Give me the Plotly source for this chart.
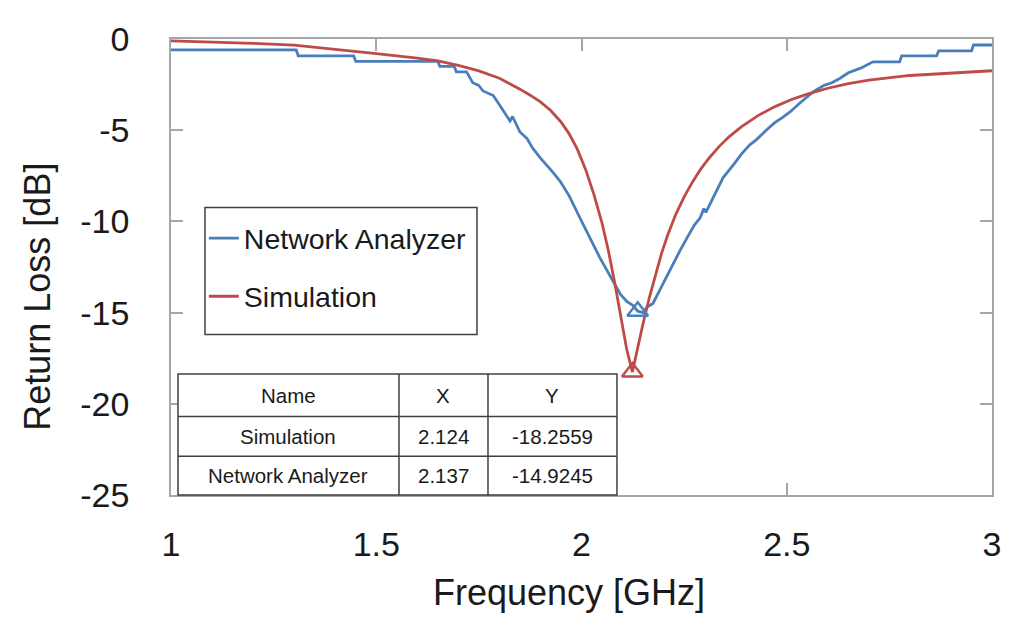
import plotly.graph_objects as go

# ---- data ----
na_freq = [1.000, 1.305, 1.310, 1.445, 1.450, 1.650, 1.655, 1.690, 1.695, 1.720,
           1.735, 1.750, 1.760, 1.770, 1.785, 1.800, 1.815, 1.826, 1.832, 1.840,
           1.850, 1.867, 1.880, 1.899, 1.915, 1.930, 1.948, 1.970, 1.996, 2.020,
           2.045, 2.060, 2.077, 2.095, 2.111, 2.125, 2.137, 2.150, 2.160, 2.174,
           2.190, 2.208, 2.223, 2.240, 2.257, 2.275, 2.289, 2.298, 2.303, 2.320,
           2.345, 2.370, 2.390, 2.410, 2.427, 2.450, 2.470, 2.490, 2.508, 2.530,
           2.550, 2.564, 2.590, 2.610, 2.630, 2.650, 2.680, 2.710, 2.775, 2.780,
           2.865, 2.870, 2.950, 2.955, 3.000]
na_db = [-0.60, -0.60, -0.92, -0.92, -1.23, -1.23, -1.50, -1.50, -1.80, -1.80,
         -2.40, -2.55, -2.85, -2.95, -3.10, -3.60, -4.10, -4.50, -4.25, -4.60,
         -5.10, -5.45, -5.95, -6.50, -6.90, -7.30, -7.80, -8.60, -9.80, -10.90,
         -12.00, -12.60, -13.30, -14.00, -14.40, -14.60, -14.92, -15.00, -14.70, -14.50,
         -13.80, -13.00, -12.30, -11.60, -10.90, -10.20, -9.80, -9.30, -9.50, -8.70,
         -7.60, -6.90, -6.30, -5.80, -5.50, -5.00, -4.60, -4.30, -4.00, -3.55,
         -3.15, -2.90, -2.55, -2.40, -2.15, -1.85, -1.60, -1.25, -1.25, -0.92,
         -0.92, -0.65, -0.65, -0.33, -0.33]

sim_freq = [1.00, 1.10, 1.20, 1.30, 1.40, 1.50, 1.60, 1.65, 1.70, 1.75,
            1.80, 1.826, 1.85, 1.875, 1.90, 1.925, 1.95, 1.97, 1.99, 2.01,
            2.03, 2.05, 2.065, 2.08, 2.095, 2.11, 2.124, 2.135, 2.15, 2.165,
            2.18, 2.195, 2.21, 2.23, 2.25, 2.27, 2.29, 2.31, 2.335, 2.36,
            2.39, 2.43, 2.47, 2.51, 2.55, 2.60, 2.65, 2.70, 2.80, 2.90, 3.00]
sim_db = [-0.10, -0.16, -0.24, -0.34, -0.55, -0.80, -1.05, -1.20, -1.45, -1.75,
          -2.15, -2.45, -2.75, -3.08, -3.45, -3.92, -4.55, -5.20, -6.05, -7.15,
          -8.50, -10.10, -11.55, -13.25, -15.15, -17.00, -18.26, -17.10, -15.60, -14.20,
          -12.90, -11.75, -10.75, -9.60, -8.65, -7.85, -7.15, -6.55, -5.90, -5.35,
          -4.80, -4.20, -3.72, -3.33, -3.02, -2.70, -2.45, -2.25, -2.00, -1.85, -1.74]

table_names = ["Simulation", "Network Analyzer"]
table_x = [2.124, 2.137]
table_y = [-18.2559, -14.9245]
table_header = ["Name", "X", "Y"]

x_ticks = [1, 1.5, 2, 2.5, 3]
y_ticks = [0, -5, -10, -15, -20, -25]

BLUE = "#4A7EBB"
RED = "#BE4B48"
FONT = "Liberation Sans, Arial, sans-serif"
TXT = "#1a1a1a"
LC = "#404040"

fig = go.Figure()
fig.add_trace(go.Scatter(x=na_freq, y=na_db, mode="lines", name="Network Analyzer",
                         line=dict(color=BLUE, width=2.8), legendgroup="a"))
fig.add_trace(go.Scatter(x=sim_freq, y=sim_db, mode="lines", name="Simulation",
                         line=dict(color=RED, width=2.8), legendgroup="b"))
fig.add_trace(go.Scatter(x=[table_x[1]], y=[table_y[1]], mode="markers", showlegend=False,
                         marker=dict(symbol="triangle-up-open", size=18, color=BLUE,
                                     line=dict(width=2.4, color=BLUE))))
fig.add_trace(go.Scatter(x=[table_x[0]], y=[table_y[0]], mode="markers", showlegend=False,
                         marker=dict(symbol="triangle-up-open", size=18, color=RED,
                                     line=dict(width=2.4, color=RED))))

# ---- legend box & table drawn with shapes / annotations (paper coords) ----
shapes = [dict(type="rect", xref="paper", yref="paper", x0=0.0414, x1=0.3727,
               y0=0.3522, y1=0.6304, fillcolor="white", line=dict(color=LC, width=1.5),
               layer="above")]

col_edges = [0.0085, 0.2777, 0.3861, 0.5432]
row_edges = [0.2652, 0.172, 0.0848, 0.0]
shapes.append(dict(type="rect", xref="paper", yref="paper", x0=col_edges[0], x1=col_edges[-1],
                   y0=row_edges[-1], y1=row_edges[0], fillcolor="white",
                   line=dict(color=LC, width=1.5), layer="above"))
for cx in col_edges[1:-1]:
    shapes.append(dict(type="line", xref="paper", yref="paper", x0=cx, x1=cx,
                       y0=row_edges[-1], y1=row_edges[0], line=dict(color=LC, width=1.5),
                       layer="above"))
for ry in row_edges[1:-1]:
    shapes.append(dict(type="line", xref="paper", yref="paper", x0=col_edges[0], x1=col_edges[-1],
                       y0=ry, y1=ry, line=dict(color=LC, width=1.5), layer="above"))

rows = [table_header] + [[n, f"{x:.3f}", f"{y:.4f}"] for n, x, y in zip(table_names, table_x, table_y)]
annotations = []
for ri, row in enumerate(rows):
    yc = (row_edges[ri] + row_edges[ri + 1]) / 2
    for ci, txt in enumerate(row):
        xc = (col_edges[ci] + col_edges[ci + 1]) / 2
        annotations.append(dict(x=xc, y=yc, xref="paper", yref="paper", text=txt,
                                showarrow=False, xanchor="center", yanchor="middle",
                                font=dict(family=FONT, size=20.5, color=TXT)))

# axis titles
annotations.append(dict(x=0.4848, y=-0.213, xref="paper", yref="paper", text="Frequency [GHz]",
                        showarrow=False, xanchor="center", yanchor="middle",
                        font=dict(family=FONT, size=36, color=TXT)))
annotations.append(dict(x=-0.162, y=0.4348, xref="paper", yref="paper", text="Return Loss [dB]",
                        showarrow=False, xanchor="center", yanchor="middle", textangle=-90,
                        font=dict(family=FONT, size=36, color=TXT)))

axis_common = dict(showgrid=False, zeroline=False, showline=True, linecolor="#A6A6A6",
                   linewidth=1.5, mirror="ticks", ticks="inside", ticklen=12,
                   tickcolor="#A6A6A6", tickwidth=1.5,
                   tickfont=dict(family=FONT, size=34, color=TXT))

fig.update_layout(
    width=1008, height=613,
    margin=dict(l=163, r=24, t=27, b=126),
    paper_bgcolor="white", plot_bgcolor="white",
    font=dict(family=FONT, color=TXT),
    shapes=shapes, annotations=annotations,
    legend=dict(x=0.040, y=0.618, xanchor="left", yanchor="top",
                bgcolor="rgba(0,0,0,0)", borderwidth=0,
                font=dict(family=FONT, size=28.5, color=TXT),
                tracegroupgap=18, traceorder="grouped"),
    xaxis=dict(range=[1, 3], tickvals=x_ticks, ticktext=[str(v) for v in x_ticks],
               ticklabelstandoff=18, **axis_common),
    yaxis=dict(range=[-25, 0], tickvals=y_ticks, ticktext=[str(v) for v in y_ticks],
               ticklabelstandoff=33, **axis_common),
)

fig.write_html("out.html")
